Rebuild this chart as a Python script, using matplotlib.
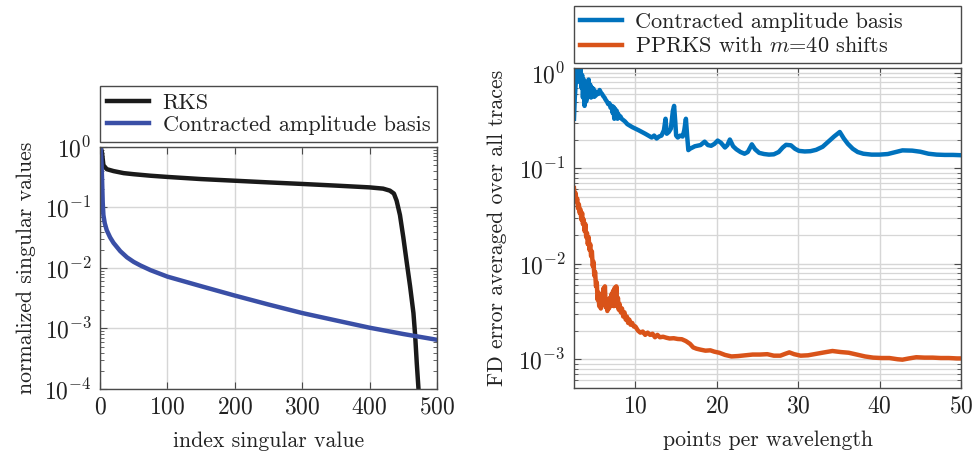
import matplotlib
matplotlib.use("Agg")
import matplotlib.pyplot as plt
from matplotlib.ticker import LogLocator, NullFormatter, FixedLocator

plt.rcParams['font.family'] = ['cmr10', 'DejaVu Serif']
plt.rcParams['mathtext.fontset'] = 'cm'
plt.rcParams['axes.formatter.use_mathtext'] = True
plt.rcParams['axes.unicode_minus'] = False

# ---------------- data: left panel ----------------
rks_idx = [1, 3, 5, 10, 20, 35, 50, 75, 100, 150, 200, 250, 300, 350, 400,
           420, 430, 436, 440, 445, 450, 455, 460, 465, 467.5, 470, 472.5, 474]
rks_val = [1.0, 0.8, 0.5, 0.43, 0.40, 0.37, 0.355, 0.335, 0.32, 0.295, 0.277,
           0.26, 0.245, 0.23, 0.215, 0.205, 0.19, 0.17, 0.13, 0.075, 0.032,
           0.0125, 0.005, 0.0018, 0.00078, 0.00026, 0.0001, 0.00005]

cab_idx = [1, 2, 3, 4, 5, 7, 10, 15, 20, 30, 40, 50, 60, 75, 100, 150, 200,
           250, 300, 350, 400, 450, 500]
cab_val = [1.0, 0.6, 0.3, 0.12, 0.075, 0.055, 0.042, 0.032, 0.026, 0.019,
           0.015, 0.0126, 0.011, 0.0092, 0.0072, 0.0050, 0.0035, 0.00249,
           0.0018, 0.00136, 0.00103, 0.00081, 0.00065]

# ---------------- data: right panel ----------------
ppw_cab = [2.45, 2.55, 2.65, 2.75, 2.85, 2.95, 3.05, 3.15, 3.25, 3.35, 3.45,
           3.55, 3.65, 3.75, 3.85, 3.95, 4.05, 4.15, 4.25, 4.35, 4.45, 4.55,
           4.65, 4.75, 4.85, 4.95, 5.05, 5.15, 5.3, 5.45, 5.6, 5.75, 5.9,
           6.05, 6.2, 6.35, 6.5, 6.65, 6.8, 6.95, 7.1, 7.2, 7.3, 7.4, 7.5,
           7.6, 7.7, 7.8, 7.9, 8.0, 8.15, 8.3, 8.5, 8.7, 9.0, 9.3, 9.6, 10.0,
           10.4, 10.8, 11.2, 11.6, 12.0, 12.3, 12.6, 12.9, 13.2, 13.5, 13.7,
           13.85, 14.1, 14.35, 14.6, 14.75, 14.9, 15.0, 15.2, 15.5, 15.8,
           16.0, 16.2, 16.35, 16.5, 16.7, 17.0, 17.3, 17.6, 18.0, 18.5, 18.9,
           19.3, 19.7, 20.1, 20.5, 21.0, 21.3, 21.6, 22.0, 22.4, 22.9, 23.4,
           23.8, 24.3, 24.7, 25.2, 25.8, 26.4, 27.0, 27.6, 28.1, 28.5, 29.1,
           29.6, 30.1, 30.8, 31.5, 32.2, 33.0, 33.7, 34.4, 35.1, 35.6, 36.1,
           36.7, 37.3, 38.0, 39.0, 40.0, 41.0, 42.0, 42.8, 44.0, 45.0, 46.0,
           47.0, 48.0, 49.0, 50.0]
err_cab = [0.33, 0.55, 0.75, 1.0, 1.2, 0.9, 1.15, 0.8, 1.1, 0.7, 0.95, 0.55,
           0.85, 0.45, 0.75, 0.5, 0.8, 0.55, 0.85, 0.6, 0.75, 0.55, 0.7, 0.58,
           0.68, 0.56, 0.64, 0.58, 0.62, 0.6, 0.66, 0.62, 0.6, 0.57, 0.55,
           0.52, 0.5, 0.47, 0.48, 0.43, 0.45, 0.38, 0.44, 0.33, 0.42, 0.34,
           0.40, 0.33, 0.37, 0.34, 0.35, 0.33, 0.32, 0.31, 0.29, 0.28, 0.27,
           0.26, 0.25, 0.24, 0.23, 0.22, 0.21, 0.22, 0.205, 0.215, 0.22, 0.25,
           0.33, 0.23, 0.24, 0.26, 0.4, 0.45, 0.3, 0.22, 0.21, 0.22, 0.215,
           0.25, 0.33, 0.22, 0.155, 0.16, 0.165, 0.17, 0.172, 0.175, 0.19,
           0.175, 0.172, 0.18, 0.195, 0.185, 0.165, 0.175, 0.2, 0.17, 0.158,
           0.148, 0.142, 0.148, 0.178, 0.158, 0.145, 0.141, 0.139, 0.14,
           0.148, 0.165, 0.176, 0.174, 0.16, 0.152, 0.15, 0.151, 0.156, 0.168,
           0.19, 0.215, 0.24, 0.205, 0.18, 0.16, 0.148, 0.142, 0.139, 0.139,
           0.141, 0.148, 0.154, 0.153, 0.149, 0.142, 0.139, 0.138, 0.138,
           0.137]

ppw_pprks = [2.45, 2.55, 2.65, 2.75, 2.85, 2.95, 3.05, 3.15, 3.25, 3.35, 3.45,
             3.55, 3.65, 3.75, 3.85, 3.95, 4.05, 4.15, 4.25, 4.35, 4.45, 4.55,
             4.65, 4.75, 4.85, 4.95, 5.05, 5.15, 5.25, 5.35, 5.45, 5.55, 5.65,
             5.75, 5.85, 5.95, 6.05, 6.15, 6.25, 6.35, 6.45, 6.55, 6.65, 6.75,
             6.85, 6.95, 7.05, 7.15, 7.25, 7.35, 7.45, 7.55, 7.65, 7.75, 7.85,
             7.95, 8.05, 8.2, 8.35, 8.5, 8.65, 8.8, 8.95, 9.1, 9.25, 9.4, 9.6,
             9.8, 10.0, 10.3, 10.6, 10.9, 11.2, 11.5, 11.8, 12.1, 12.4, 12.7,
             13.0, 13.4, 13.8, 14.2, 14.7, 15.2, 15.7, 16.2, 16.7, 17.1, 17.5,
             18.0, 18.6, 19.2, 19.7, 20.3, 21.0, 21.8, 22.6, 23.5, 24.4, 25.3,
             26.2, 27.0, 27.8, 28.4, 28.9, 29.5, 30.3, 31.2, 32.2, 33.2, 34.2,
             35.2, 36.2, 37.2, 38.2, 39.2, 40.2, 41.2, 42.2, 42.8, 43.6, 44.5,
             45.5, 46.5, 47.5, 48.5, 49.5, 50.0]
err_pprks = [0.062, 0.05, 0.055, 0.045, 0.048, 0.038, 0.042, 0.034, 0.037,
             0.029, 0.034, 0.026, 0.029, 0.022, 0.026, 0.019, 0.021, 0.016,
             0.019, 0.014, 0.016, 0.012, 0.0135, 0.0095, 0.0105, 0.0075,
             0.0082, 0.0058, 0.0064, 0.0042, 0.0050, 0.0036, 0.0046, 0.0034,
             0.0048, 0.0038, 0.0055, 0.0040, 0.0058, 0.0035, 0.0042, 0.0032,
             0.0040, 0.0034, 0.0044, 0.0036, 0.0048, 0.0038, 0.0052, 0.0036,
             0.0056, 0.0040, 0.0058, 0.0036, 0.0044, 0.0033, 0.0038, 0.0031,
             0.0034, 0.0028, 0.0031, 0.0026, 0.0028, 0.0024, 0.0026, 0.0023,
             0.0024, 0.0022, 0.0022, 0.0020, 0.0019, 0.00195, 0.0018, 0.0019,
             0.0018, 0.00185, 0.0017, 0.0018, 0.0017, 0.00172, 0.00168,
             0.00165, 0.00166, 0.00163, 0.00162, 0.00155, 0.00145, 0.00133,
             0.00129, 0.00126, 0.00123, 0.00124, 0.0012, 0.00117, 0.00111,
             0.00107, 0.00108, 0.0011, 0.00112, 0.00112, 0.00113, 0.00109,
             0.00109, 0.00114, 0.00118, 0.00113, 0.00109, 0.0011, 0.00114,
             0.00118, 0.00122, 0.00119, 0.00117, 0.00112, 0.00107, 0.00104,
             0.00103, 0.00103, 0.001, 0.00099, 0.00102, 0.00105, 0.00104,
             0.00104, 0.00103, 0.00103, 0.00102, 0.00102]

left_xticks = [0, 100, 200, 300, 400, 500]
right_xticks = [10, 20, 30, 40, 50]

# ---------------- styling ----------------
FS_LAB = 15.7
FS_TICK = 17
FS_LEG = 16
SPINE = '#4a4a4a'
GRID = '#d6d6d6'
TXT = '#222222'
LW = 3.2

fig = plt.figure(figsize=(9.74, 4.53), dpi=100)


def style_axes(ax):
    for s in ax.spines.values():
        s.set_color(SPINE)
        s.set_linewidth(1.0)
    ax.tick_params(which='both', direction='in', top=True, right=True,
                   colors=SPINE, labelcolor=TXT, labelsize=FS_TICK)
    ax.tick_params(which='major', length=5, width=0.8)
    ax.tick_params(which='minor', length=3, width=0.6)
    ax.tick_params(axis='x', pad=5)
    ax.tick_params(axis='y', pad=6)


def style_legend(leg):
    leg.get_frame().set_linewidth(1.0)
    for t in leg.get_texts():
        t.set_color(TXT)


# left panel
axL = fig.add_axes([0.1027, 0.1413, 0.3460, 0.5342])
axL.plot(rks_idx, rks_val, color='#1a1a1a', lw=LW, label='RKS',
         solid_joinstyle='round')
axL.plot(cab_idx, cab_val, color='#3a4fa6', lw=LW,
         label='Contracted amplitude basis', solid_joinstyle='round')
axL.set_yscale('log')
axL.set_xlim(0, 500)
axL.set_ylim(1e-4, 1)
axL.xaxis.set_major_locator(FixedLocator(left_xticks))
axL.yaxis.set_major_locator(LogLocator(base=10, numticks=10))
axL.yaxis.set_minor_locator(LogLocator(base=10, subs=range(2, 10), numticks=10))
axL.yaxis.set_minor_formatter(NullFormatter())
axL.grid(True, which='major', color=GRID, lw=1.0)
axL.set_axisbelow(True)
style_axes(axL)
axL.set_xlabel('index singular value', fontsize=FS_LAB, labelpad=10, color=TXT)
axL.set_ylabel('normalized singular values', fontsize=FS_LAB, labelpad=6,
               color=TXT)
legL = axL.legend(loc='lower left',
                  bbox_to_anchor=(0.1027, 0.6865, 0.3460, 0.1259),
                  bbox_transform=fig.transFigure, mode='expand', borderaxespad=0,
                  fontsize=FS_LEG, fancybox=False, edgecolor=SPINE, framealpha=1,
                  handlelength=1.9, handletextpad=0.6, labelspacing=0.1,
                  borderpad=0.32)
style_legend(legL)

# right panel
axR = fig.add_axes([0.5893, 0.1435, 0.3974, 0.7053])
axR.plot(ppw_cab, err_cab, color='#0072BD', lw=LW,
         label='Contracted amplitude basis', solid_joinstyle='round')
axR.plot(ppw_pprks, err_pprks, color='#D95319', lw=LW,
         label='PPRKS with $m$=40 shifts', solid_joinstyle='round')
axR.set_yscale('log')
axR.set_xlim(2.45, 50)
axR.set_ylim(5e-4, 1.109)
axR.xaxis.set_major_locator(FixedLocator(right_xticks))
axR.yaxis.set_major_locator(LogLocator(base=10, numticks=10))
axR.yaxis.set_minor_locator(LogLocator(base=10, subs=range(2, 10), numticks=10))
axR.yaxis.set_minor_formatter(NullFormatter())
axR.grid(True, which='major', color=GRID, lw=1.0)
axR.grid(True, which='minor', axis='y', color=GRID, lw=0.9)
axR.set_axisbelow(True)
style_axes(axR)
axR.set_xlabel('points per wavelength', fontsize=FS_LAB, labelpad=10, color=TXT)
axR.set_ylabel('FD error averaged over all traces', fontsize=FS_LAB, labelpad=8,
               color=TXT)
legR = axR.legend(loc='lower left',
                  bbox_to_anchor=(0.5893, 0.8616, 0.3974, 0.1224),
                  bbox_transform=fig.transFigure, mode='expand', borderaxespad=0,
                  fontsize=FS_LEG, fancybox=False, edgecolor=SPINE, framealpha=1,
                  handlelength=1.9, handletextpad=0.55, labelspacing=0.2,
                  borderpad=0.28)
style_legend(legR)

fig.savefig('out.png', dpi=100)
